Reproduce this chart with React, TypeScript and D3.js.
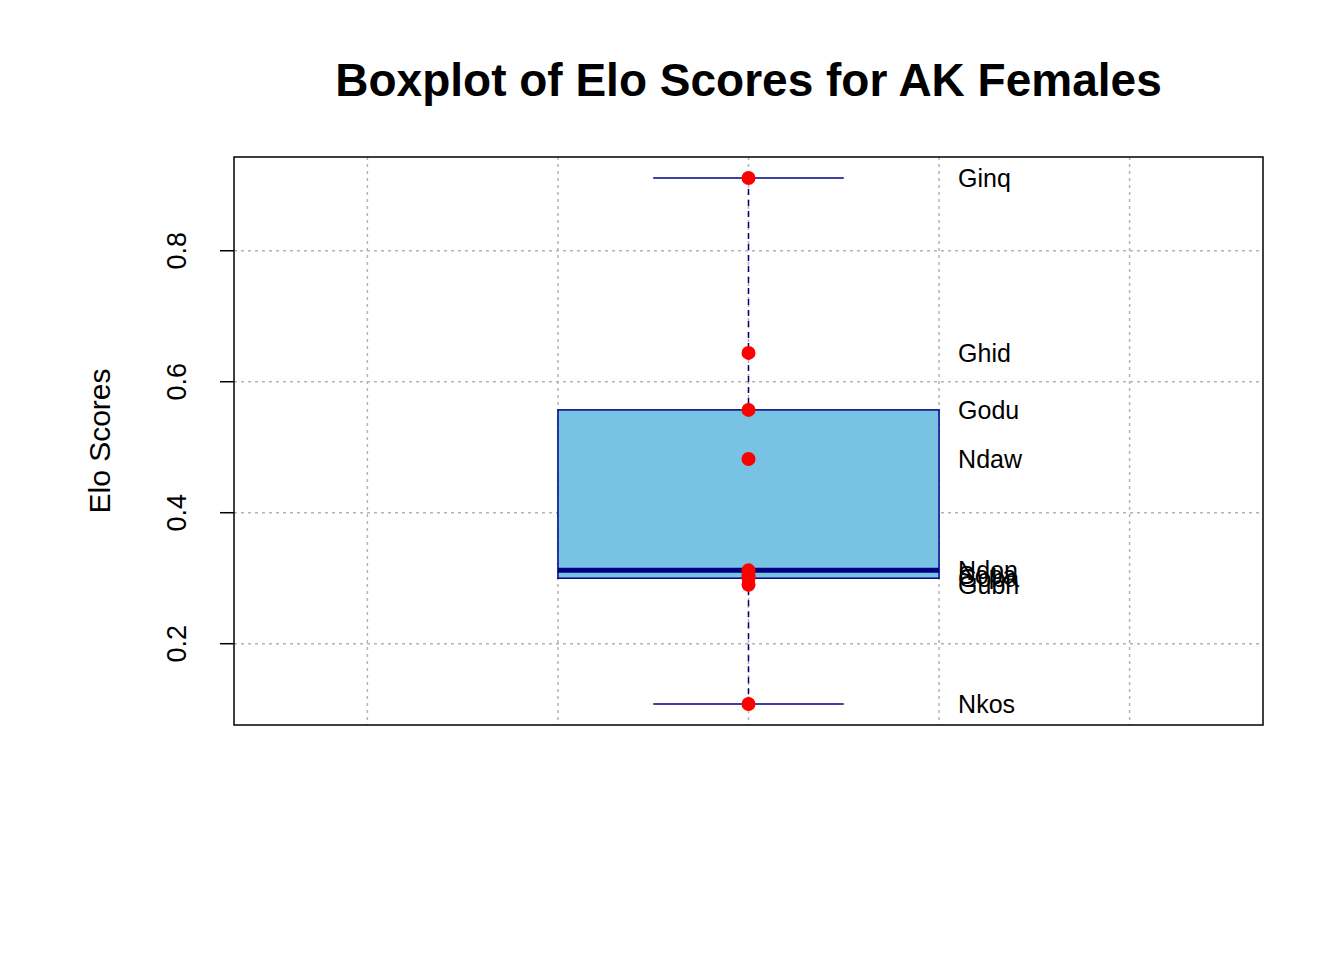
import React from 'react';
import * as d3 from 'd3';

const names = ['Ginq', 'Ghid', 'Godu', 'Ndaw', 'Ndon', 'Sopa', 'Goba', 'Gubh', 'Nkos'];
const scores = [0.911, 0.644, 0.557, 0.482, 0.312, 0.305, 0.300, 0.290, 0.108];
const yTicks = [0.2, 0.4, 0.6, 0.8];
const xGrid = [0.6, 0.8, 1.0, 1.2, 1.4];

const W = 1344, H = 960;
const L = 234, R = 1263, T = 157, B = 725;

function fivenum(v: number[]) {
  const s = [...v].sort((a, b) => a - b);
  const n = s.length;
  const n4 = Math.floor((n + 3) / 2) / 2;
  const idx = [1, n4, (n + 1) / 2, n + 1 - n4, n];
  return idx.map(i => 0.5 * (s[Math.floor(i) - 1] + s[Math.ceil(i) - 1]));
}

export default function App() {
  const [mn, q1, med, q3, mx] = fivenum(scores);
  const ext = (mx - mn) * 0.04;
  const y = d3.scaleLinear().domain([mn - ext, mx + ext]).range([B, T]);
  const x = d3.scaleLinear().domain([0.46, 1.54]).range([L, R]);
  const font = 'Liberation Sans, Arial, sans-serif';
  return (
    <svg width={W} height={H} style={{ position: 'absolute', left: 0, top: 0 }} fontFamily={font}>
      <rect width={W} height={H} fill="#fff" />
      {xGrid.map(g => (
        <line key={'x' + g} x1={x(g)} x2={x(g)} y1={T} y2={B} stroke="#b3b3b3" strokeDasharray="3,4" strokeWidth={1.5} />
      ))}
      {yTicks.map(t => (
        <line key={'y' + t} x1={L} x2={R} y1={y(t)} y2={y(t)} stroke="#b3b3b3" strokeDasharray="3,4" strokeWidth={1.5} />
      ))}
      <rect x={x(0.8)} width={x(1.2) - x(0.8)} y={y(q3)} height={y(q1) - y(q3)} fill="#78c2e4" stroke="#000080" strokeWidth={1.5} />
      <line x1={x(1)} x2={x(1)} y1={y(mx)} y2={y(q3)} stroke="#000080" strokeDasharray="6,5" strokeWidth={1.5} />
      <line x1={x(1)} x2={x(1)} y1={y(q1)} y2={y(mn)} stroke="#000080" strokeDasharray="6,5" strokeWidth={1.5} />
      <line x1={x(0.9)} x2={x(1.1)} y1={y(mx)} y2={y(mx)} stroke="#000080" strokeWidth={1.5} />
      <line x1={x(0.9)} x2={x(1.1)} y1={y(mn)} y2={y(mn)} stroke="#000080" strokeWidth={1.5} />
      <line x1={x(0.8)} x2={x(1.2)} y1={y(med)} y2={y(med)} stroke="#000080" strokeWidth={5} />
      {scores.map((s, i) => (
        <g key={names[i]}>
          <circle cx={x(1)} cy={y(s)} r={7} fill="#ff0000" />
          <text x={x(1.22)} y={y(s)} dy="0.35em" fontSize={25}>{names[i]}</text>
        </g>
      ))}
      <rect x={L} y={T} width={R - L} height={B - T} fill="none" stroke="#000" strokeWidth={1.5} />
      {yTicks.map(t => (
        <g key={'t' + t}>
          <line x1={L} x2={L - 14} y1={y(t)} y2={y(t)} stroke="#000" strokeWidth={1.5} />
          <text transform={`translate(${L - 48},${y(t)}) rotate(-90)`} textAnchor="middle" fontSize={27}>{t}</text>
        </g>
      ))}
      <text transform={`translate(110,${(T + B) / 2}) rotate(-90)`} textAnchor="middle" fontSize={30}>Elo Scores</text>
      <text x={x(1)} y={96} textAnchor="middle" fontSize={46} fontWeight="bold">Boxplot of Elo Scores for AK Females</text>
    </svg>
  );
}
